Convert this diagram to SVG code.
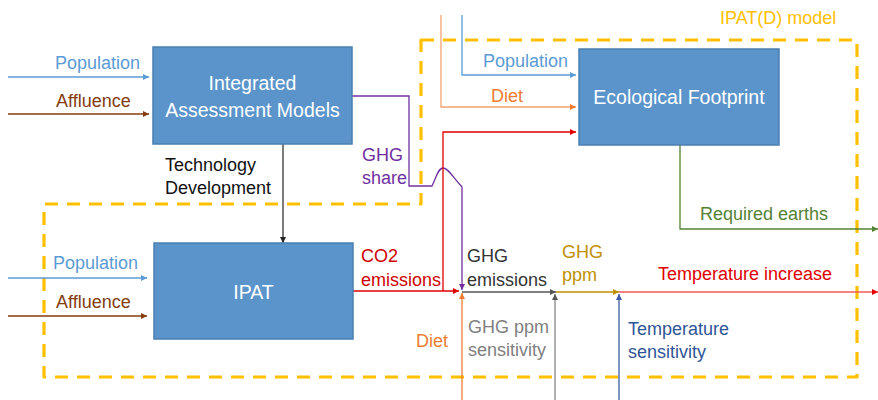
<svg xmlns="http://www.w3.org/2000/svg" width="878" height="400" viewBox="0 0 878 400">
<style>
text{font-family:"Liberation Sans",Arial,sans-serif;font-size:18px}
.box{fill:#5B94CA;stroke:#4A7FB0;stroke-width:1.5}
.bt{fill:#fff;font-size:19.5px;text-anchor:middle}
.ln{fill:none;stroke-width:1.3}
.dash{fill:none;stroke:#FFC000;stroke-width:3.2;stroke-dasharray:13 9;stroke-linejoin:round}
</style>
<defs>
<marker id="mBlue" viewBox="0 0 10 10" refX="10" refY="5" markerWidth="6" markerHeight="6" orient="auto" markerUnits="userSpaceOnUse"><path d="M0,0L10,5L0,10z" fill="#5B9BD5"/></marker>
<marker id="mBrown" viewBox="0 0 10 10" refX="10" refY="5" markerWidth="6" markerHeight="6" orient="auto" markerUnits="userSpaceOnUse"><path d="M0,0L10,5L0,10z" fill="#843C0C"/></marker>
<marker id="mBlack" viewBox="0 0 10 10" refX="10" refY="5" markerWidth="6" markerHeight="6" orient="auto" markerUnits="userSpaceOnUse"><path d="M0,0L10,5L0,10z" fill="#222"/></marker>
<marker id="mPurple" viewBox="0 0 10 10" refX="10" refY="5" markerWidth="6" markerHeight="6" orient="auto" markerUnits="userSpaceOnUse"><path d="M0,0L10,5L0,10z" fill="#7030A0"/></marker>
<marker id="mRed" viewBox="0 0 10 10" refX="10" refY="5" markerWidth="6" markerHeight="6" orient="auto" markerUnits="userSpaceOnUse"><path d="M0,0L10,5L0,10z" fill="#E00000"/></marker>
<marker id="mOrange" viewBox="0 0 10 10" refX="10" refY="5" markerWidth="6" markerHeight="6" orient="auto" markerUnits="userSpaceOnUse"><path d="M0,0L10,5L0,10z" fill="#ED7D31"/></marker>
<marker id="mGray" viewBox="0 0 10 10" refX="10" refY="5" markerWidth="6" markerHeight="6" orient="auto" markerUnits="userSpaceOnUse"><path d="M0,0L10,5L0,10z" fill="#555"/></marker>
<marker id="mGold" viewBox="0 0 10 10" refX="10" refY="5" markerWidth="6" markerHeight="6" orient="auto" markerUnits="userSpaceOnUse"><path d="M0,0L10,5L0,10z" fill="#BF9000"/></marker>
<marker id="mNavy" viewBox="0 0 10 10" refX="10" refY="5" markerWidth="6" markerHeight="6" orient="auto" markerUnits="userSpaceOnUse"><path d="M0,0L10,5L0,10z" fill="#3B5BA8"/></marker>
<marker id="mGreen" viewBox="0 0 10 10" refX="10" refY="5" markerWidth="6" markerHeight="6" orient="auto" markerUnits="userSpaceOnUse"><path d="M0,0L10,5L0,10z" fill="#548235"/></marker>
</defs>
<rect width="878" height="400" fill="#fff"/>

<g id="ipatd-boundary">
<path class="dash" d="M421,40 H857 V377 H44 V204 H421 Z"/>
<text x="720" y="24" fill="#FFC000" font-size="17.5">IPAT(D) model</text>
</g>

<g id="connectors">
<path class="ln" stroke="#5B9BD5" d="M8,77 H149" marker-end="url(#mBlue)"/>
<path class="ln" stroke="#843C0C" d="M8,114 H149" marker-end="url(#mBrown)"/>
<path class="ln" stroke="#5B9BD5" d="M8,278 H147" marker-end="url(#mBlue)"/>
<path class="ln" stroke="#843C0C" d="M8,316 H147" marker-end="url(#mBrown)"/>
<path class="ln" stroke="#333" d="M283,144 V243" marker-end="url(#mBlack)"/>
<path class="ln" stroke="#7030A0" d="M352,96 H409 V186 H432 C436,178 438,168 443,168 C448,168 452,176 462,187 V290" marker-end="url(#mPurple)"/>
<path class="ln" stroke="#E00000" d="M353,291 H459" marker-end="url(#mRed)"/>
<path class="ln" stroke="#E00000" d="M443,291 V132 H576" marker-end="url(#mRed)"/>
<path class="ln" stroke="#5B9BD5" d="M462,15 V75 H576" marker-end="url(#mBlue)"/>
<path class="ln" stroke="#F4A46F" d="M441,15 V107 H576" marker-end="url(#mOrange)"/>
<path class="ln" stroke="#ED7D31" d="M462,400 V293" marker-end="url(#mOrange)"/>
<path class="ln" stroke="#555" d="M462,292 H556" marker-end="url(#mGray)"/>
<path class="ln" stroke="#888" d="M555,400 V294" marker-end="url(#mGray)"/>
<path class="ln" stroke="#BF9000" d="M556,292 H619" marker-end="url(#mGold)"/>
<path class="ln" stroke="#3B5BA8" d="M619,400 V294" marker-end="url(#mNavy)"/>
<path class="ln" stroke="#F25A5A" d="M619,292 H878" marker-end="url(#mRed)"/>
<path class="ln" stroke="#548235" d="M680,145 V229 H878" marker-end="url(#mGreen)"/>
</g>

<g id="node-iam">
<rect class="box" x="153" y="47" width="199" height="97"/>
<text class="bt" x="252.5" y="90">Integrated</text>
<text class="bt" x="252.5" y="117">Assessment Models</text>
</g>

<g id="node-ipat">
<rect class="box" x="154" y="243" width="199" height="96"/>
<text class="bt" x="253.5" y="299">IPAT</text>
</g>

<g id="node-ef">
<rect class="box" x="579" y="49" width="200" height="96"/>
<text class="bt" x="679" y="104">Ecological Footprint</text>
</g>

<g id="labels">
<text x="55" y="69" fill="#5B9BD5">Population</text>
<text x="56" y="107" fill="#843C0C">Affluence</text>
<text x="53" y="269" fill="#5B9BD5">Population</text>
<text x="56" y="308" fill="#843C0C">Affluence</text>
<text x="165" y="171" fill="#111">Technology</text>
<text x="165" y="194" fill="#111">Development</text>
<text x="362" y="161" fill="#7030A0">GHG</text>
<text x="362" y="184" fill="#7030A0">share</text>
<text x="361" y="262" fill="#D00000">CO2</text>
<text x="361" y="286" fill="#D00000">emissions</text>
<text x="483" y="67" fill="#5B9BD5">Population</text>
<text x="491" y="102" fill="#ED7D31">Diet</text>
<text x="700" y="220" fill="#548235">Required earths</text>
<text x="467" y="262" fill="#333">GHG</text>
<text x="467" y="286" fill="#333">emissions</text>
<text x="562" y="258" fill="#BF9000">GHG</text>
<text x="562" y="281" fill="#BF9000">ppm</text>
<text x="658" y="280" fill="#E00000">Temperature increase</text>
<text x="416" y="347" fill="#ED7D31">Diet</text>
<text x="468" y="333" fill="#808080">GHG ppm</text>
<text x="468" y="356" fill="#808080">sensitivity</text>
<text x="628" y="335" fill="#2F5597">Temperature</text>
<text x="628" y="358" fill="#2F5597">sensitivity</text>
</g>
</svg>
